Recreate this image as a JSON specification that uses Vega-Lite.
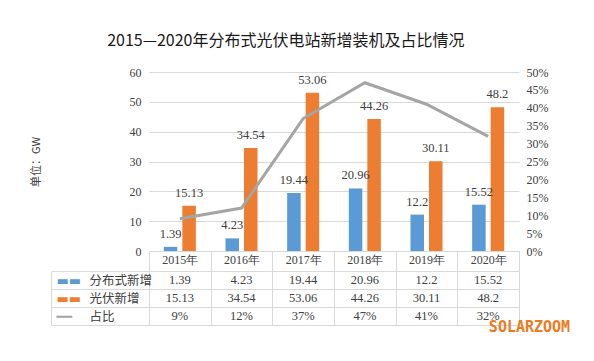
{
  "$schema": "https://vega.github.io/schema/vega-lite/v6.json",
  "background": "white",
  "padding": {"left": 30, "top": 33, "right": 5, "bottom": 5},
  "title": {
    "text": "2015—2020年分布式光伏电站新增装机及占比情况",
    "font": "Noto Sans CJK SC",
    "fontSize": 16,
    "fontWeight": "normal",
    "color": "#1a1a1a",
    "anchor": "middle",
    "dx": -14,
    "offset": 17
  },
  "config": {
    "view": {"stroke": null},
    "font": "Liberation Serif",
    "axis": {"labelFont": "Liberation Serif", "labelFontSize": 12, "labelColor": "#404040"}
  },
  "data": {
    "values": [
      {"year": "2015年", "series": "分布式新增", "value": 1.39},
      {"year": "2016年", "series": "分布式新增", "value": 4.23},
      {"year": "2017年", "series": "分布式新增", "value": 19.44},
      {"year": "2018年", "series": "分布式新增", "value": 20.96},
      {"year": "2019年", "series": "分布式新增", "value": 12.2},
      {"year": "2020年", "series": "分布式新增", "value": 15.52},
      {"year": "2015年", "series": "光伏新增", "value": 15.13},
      {"year": "2016年", "series": "光伏新增", "value": 34.54},
      {"year": "2017年", "series": "光伏新增", "value": 53.06},
      {"year": "2018年", "series": "光伏新增", "value": 44.26},
      {"year": "2019年", "series": "光伏新增", "value": 30.11},
      {"year": "2020年", "series": "光伏新增", "value": 48.2},
      {"year": "2015年", "series": "占比", "value": 0.09},
      {"year": "2016年", "series": "占比", "value": 0.12},
      {"year": "2017年", "series": "占比", "value": 0.37},
      {"year": "2018年", "series": "占比", "value": 0.47},
      {"year": "2019年", "series": "占比", "value": 0.41},
      {"year": "2020年", "series": "占比", "value": 0.32}
    ]
  },
  "bounds": "flush",
  "spacing": 20,
  "vconcat": [
    {
      "width": 370,
      "height": 179,
      "layer": [
        {
          "transform": [{"filter": "datum.series !== '占比'"}],
          "encoding": {
            "x": {
              "field": "year", "type": "nominal",
              "scale": {"paddingInner": 0, "paddingOuter": 0},
              "axis": {
                "title": null, "labelAngle": 0, "tickBand": "extent", "tickSize": 20,
                "tickColor": "#d9d9d9", "domainColor": "#d9d9d9", "labelPadding": -17,
                "labelBaseline": "top"
              }
            },
            "xOffset": {
              "field": "series", "type": "nominal",
              "scale": {"domain": ["分布式新增", "光伏新增"], "paddingInner": 0.27, "paddingOuter": 0.8}
            },
            "y": {
              "field": "value", "type": "quantitative",
              "scale": {"domain": [0, 60]},
              "axis": {
                "values": [0, 10, 20, 30, 40, 50, 60], "grid": true, "gridColor": "#d9d9d9",
                "domain": false, "ticks": false, "labelPadding": 8,
                "title": "单位：GW", "titleFont": "Noto Sans CJK SC", "titleFontSize": 11,
                "titleFontWeight": "normal", "titleColor": "#404040", "titlePadding": 88
              }
            }
          },
          "layer": [
            {
              "mark": {"type": "bar"},
              "encoding": {
                "color": {
                  "field": "series", "type": "nominal",
                  "scale": {"domain": ["分布式新增", "光伏新增"], "range": ["#5B9BD5", "#ED7D31"]},
                  "legend": null
                }
              }
            },
            {
              "mark": {"type": "text", "baseline": "bottom", "dy": -6, "fontSize": 12.5, "color": "#404040", "font": "Liberation Serif"},
              "encoding": {"text": {"field": "value", "type": "quantitative", "format": "~g"}}
            }
          ]
        },
        {
          "transform": [{"filter": "datum.series === '占比'"}],
          "mark": {"type": "line", "color": "#A5A5A5", "strokeWidth": 3},
          "encoding": {
            "x": {"field": "year", "type": "nominal"},
            "y": {
              "field": "value", "type": "quantitative",
              "scale": {"domain": [0, 0.5]},
              "axis": {
                "orient": "right", "values": [0, 0.05, 0.1, 0.15, 0.2, 0.25, 0.3, 0.35, 0.4, 0.45, 0.5],
                "format": ".0%", "grid": false, "domain": false, "ticks": false, "labelPadding": 7, "title": null
              }
            }
          }
        }
      ],
      "resolve": {"scale": {"y": "independent"}}
    },
    {
      "width": 370,
      "height": 54,
      "layer": [
        {
          "encoding": {
            "x": {
              "field": "year", "type": "nominal",
              "scale": {"paddingInner": 0, "paddingOuter": 0},
              "axis": {
                "grid": true, "tickBand": "extent", "gridColor": "#d9d9d9", "labels": false,
                "ticks": false, "domain": false,
                "title": "SOLARZOOM", "titleFont": "DejaVu Sans Mono", "titleFontSize": 15,
                "titleFontWeight": "bold", "titleColor": "#EE7A1E", "titleX": 380, "titleY": 1,
                "titleAlign": "center", "titleBaseline": "middle"
              }
            },
            "y": {
              "field": "series", "type": "nominal",
              "scale": {"domain": ["分布式新增", "光伏新增", "占比"], "paddingInner": 0, "paddingOuter": 0},
              "axis": {
                "grid": true, "tickBand": "extent", "gridColor": "#d9d9d9", "ticks": true,
                "tickSize": 98, "tickColor": "#d9d9d9", "domain": false, "title": null,
                "labelAlign": "left", "labelPadding": -38, "labelFont": "Noto Sans CJK SC",
                "labelFontSize": 12.5, "labelColor": "#404040"
              }
            }
          },
          "layer": [
            {
              "transform": [{"filter": "datum.series !== '占比'"}],
              "mark": {"type": "text", "fontSize": 12.5, "color": "#404040", "font": "Liberation Serif"},
              "encoding": {"text": {"field": "value", "type": "quantitative", "format": "~g"}}
            },
            {
              "transform": [{"filter": "datum.series === '占比'"}],
              "mark": {"type": "text", "fontSize": 12.5, "color": "#404040", "font": "Liberation Serif"},
              "encoding": {"text": {"field": "value", "type": "quantitative", "format": ".0%"}}
            }
          ]
        },
        {
          "mark": {"type": "text", "opacity": 0},
          "encoding": {
            "y": {
              "field": "series", "type": "nominal",
              "scale": {"domain": ["分布式新增", "光伏新增", "占比"], "paddingInner": 0, "paddingOuter": 0},
              "axis": {
                "orient": "left", "offset": 98, "domain": true, "domainColor": "#d9d9d9",
                "ticks": false, "tickSize": 0, "title": null, "labelAlign": "left", "labelPadding": -5,
                "labelFont": "DejaVu Sans", "labelFontSize": 13,
                "labelExpr": "datum.value === '占比' ? '━━' : '▬▬'",
                "labelColor": {"expr": "datum.value === '分布式新增' ? '#5B9BD5' : datum.value === '光伏新增' ? '#ED7D31' : '#A5A5A5'"}
              }
            },
            "text": {"value": ""}
          }
        }
      ],
      "resolve": {"scale": {"y": "independent"}}
    }
  ]
}
